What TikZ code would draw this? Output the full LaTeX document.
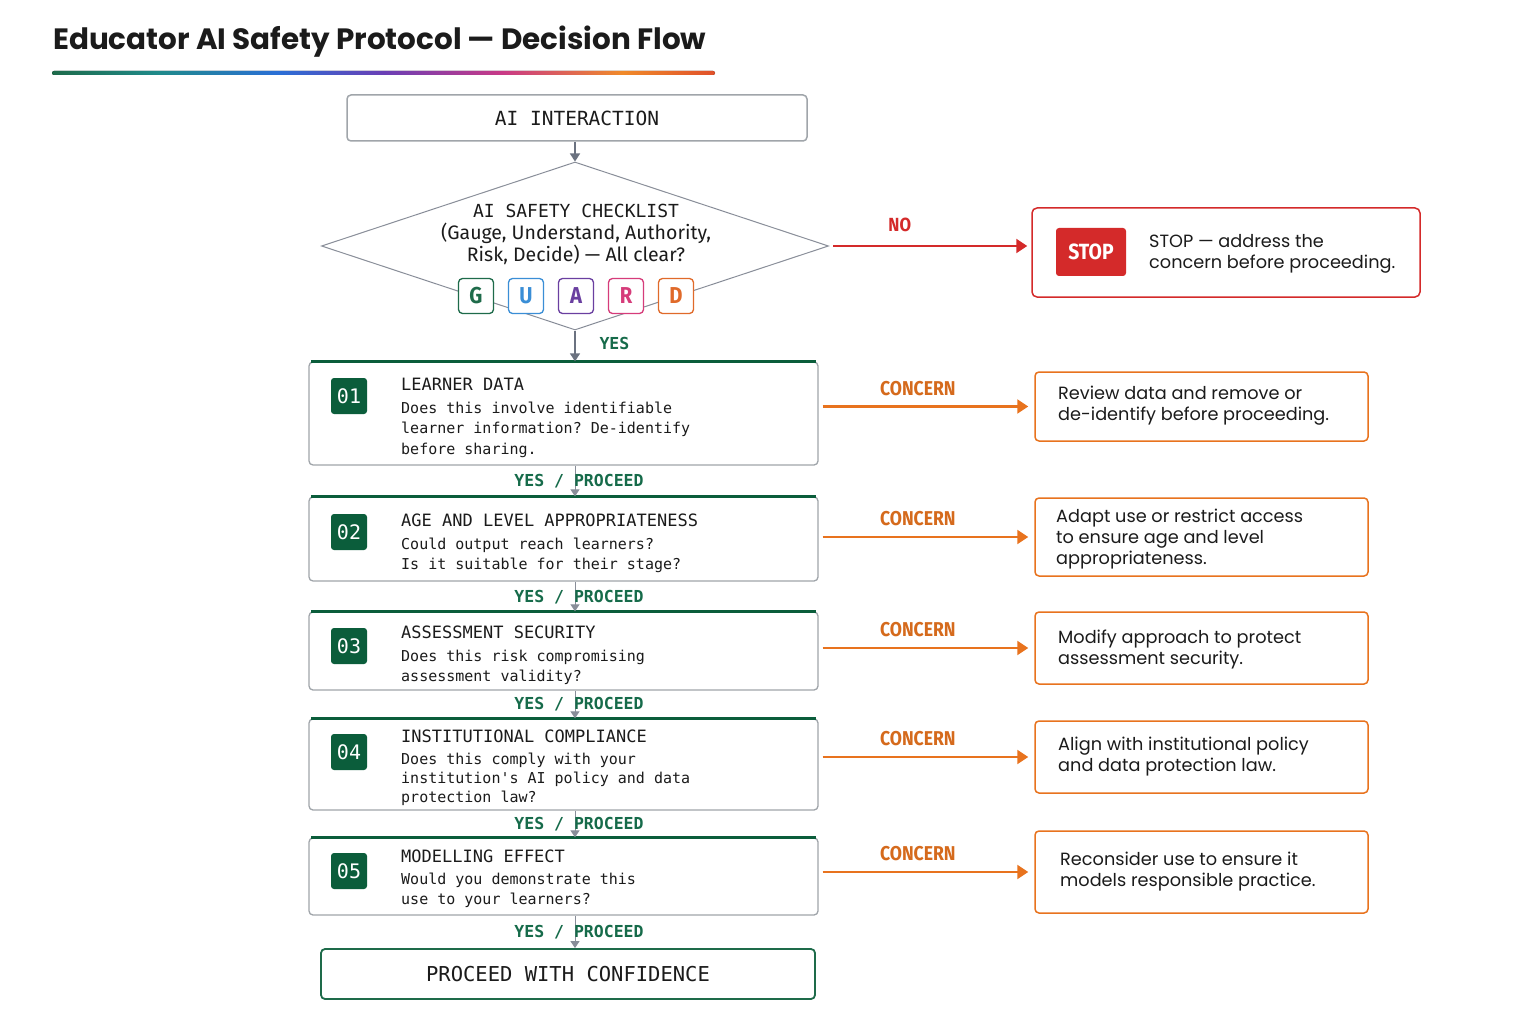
\documentclass[tikz,border=0pt]{standalone}
\usepackage{fontspec}
\setmainfont{Poppins}
\setmonofont{DejaVu Sans Mono}
\newfontfamily\condfont[FakeStretch=0.88]{Fira Sans}
\newfontfamily\narrowfont{Fira Sans}
\usetikzlibrary{arrows.meta,positioning,shapes.geometric}

\definecolor{ink}{HTML}{1B1B1B}
\definecolor{edgegray}{HTML}{A0A5AA}
\definecolor{arrowgray}{HTML}{6B7280}
\definecolor{deepgreen}{HTML}{0B5D3B}
\definecolor{yesgreen}{HTML}{166B4A}
\definecolor{concernorange}{HTML}{E8731E}
\definecolor{stopred}{HTML}{D42A2A}
\definecolor{letterG}{HTML}{1E6B4A}
\definecolor{letterU}{HTML}{3A8ED6}
\definecolor{letterA}{HTML}{6A3FA0}
\definecolor{letterR}{HTML}{D63C7A}
\definecolor{letterD}{HTML}{E06A2A}
\definecolor{barteal}{HTML}{1F8A8A}
\definecolor{barblue}{HTML}{2A6FD6}
\definecolor{barpurple}{HTML}{6A3FB5}
\definecolor{barpink}{HTML}{C93A86}
\definecolor{barorange}{HTML}{F08A2A}
\definecolor{barred}{HTML}{E0502A}

\pgfdeclarehorizontalshading{titlebar}{100bp}{color(0bp)=(letterG); color(25bp)=(letterG);
  color(33bp)=(barteal); color(42bp)=(barblue); color(50bp)=(barpurple);
  color(59bp)=(barpink); color(68bp)=(barorange); color(75bp)=(barred); color(100bp)=(barred)}

\begin{document}
\begin{tikzpicture}[x=1pt,y=-1pt]
    % page: one pt per pixel of the reference
    % - main column: checklist and five checks
    % - right column: what to do on a concern
    \tikzset{startbox/.style = {shape=rectangle,draw=edgegray,line width=1.5pt,rounded corners=4pt,fill=white,
        font=\fontsize{19.5}{20}\selectfont\ttfamily,text=ink}}
    \tikzset{checkdiamond/.style = {shape=diamond,draw=arrowgray!80,line width=1pt,inner sep=0pt}}
    \tikzset{checktext/.style = {align=center,font=\fontsize{19.5}{22}\selectfont\narrowfont,text=ink}}
    \tikzset{letter/.style = {shape=rectangle,rounded corners=4pt,line width=1.3pt,fill=white,
        minimum width=35pt,minimum height=35pt,font=\fontsize{23}{23}\selectfont\condfont\bfseries}}
    \tikzset{stepbox/.style = {shape=rectangle,draw=edgegray,line width=1.3pt,rounded corners=4pt,
        minimum width=509pt}}
    \tikzset{stepline/.style = {draw=deepgreen,line width=2.5pt}}
    \tikzset{numbadge/.style = {shape=rectangle,fill=deepgreen,rounded corners=3pt,minimum size=36pt,
        inner sep=0pt,text=white,font=\fontsize{20}{20}\selectfont\ttfamily}}
    \tikzset{steptext/.style = {anchor=north west,align=left,inner sep=0pt,text=ink,
        font=\fontsize{15}{20.5}\selectfont\ttfamily}}
    \tikzset{yeslabel/.style = {text=yesgreen,font=\fontsize{16.5}{17}\selectfont\ttfamily\bfseries}}
    \tikzset{finalbox/.style = {shape=rectangle,draw=letterG,line width=1.8pt,rounded corners=4pt,
        minimum width=494pt,minimum height=50pt,text=ink,font=\fontsize{20.5}{21}\selectfont\ttfamily}}
    \tikzset{fixbox/.style = {shape=rectangle,draw=concernorange,line width=1.5pt,rounded corners=4pt,
        minimum width=333pt}}
    \tikzset{fixtext/.style = {anchor=west,align=left,inner sep=0pt,text=ink,
        font=\fontsize{17.7}{21}\selectfont}}
    \tikzset{stopbox/.style = {shape=rectangle,draw=stopred,line width=1.5pt,rounded corners=5pt,
        minimum width=388pt,minimum height=89pt}}
    \tikzset{stopbadge/.style = {shape=rectangle,fill=stopred,rounded corners=3pt,minimum width=70pt,
        minimum height=48pt,text=white,font=\fontsize{22}{22}\selectfont\condfont\bfseries}}
    \tikzset{flow/.style = {draw=arrowgray,line width=1.5pt,-{Triangle[length=8pt,width=10pt]}}}
    \tikzset{proceed/.style = {draw=arrowgray!80,line width=1pt,-{Triangle[length=7pt,width=9pt]}}}
    \tikzset{concern/.style = {draw=concernorange,line width=2.2pt,-{Triangle[length=11pt,width=14pt]}}}
    \tikzset{concernlabel/.style = {text=concernorange!92!black,inner sep=0pt,
        font=\fontsize{20}{20}\selectfont\condfont\bfseries}}
    \tikzset{noarrow/.style = {draw=stopred,line width=2.2pt,-{Triangle[length=11pt,width=14pt]}}}
    \tikzset{nolabel/.style = {text=stopred,inner sep=0pt,font=\fontsize{19}{19}\selectfont\condfont\bfseries}}

    \fill[white] (0,0) rectangle (1536,1024);
    \useasboundingbox (0,0) rectangle (1536,1024);

    % title
    \node[anchor=west,inner sep=0pt,text=ink,font=\fontsize{29.4}{30}\selectfont\bfseries] (title) at (53,42)
        {Educator AI Safety Protocol — Decision Flow};
    \fill[shading=titlebar,rounded corners=2pt] (52,71) rectangle (715,75);

    % start and checklist
    \node[startbox,minimum width=460pt,minimum height=46pt] (start) at (577,118) {AI INTERACTION};
    \node[checkdiamond,minimum width=507pt,minimum height=168pt] (check) at (575,246) {};
    \node[checktext] (checkq) at (576,234)
        {{\ttfamily\fontsize{18}{22}\selectfont AI SAFETY CHECKLIST}\\(Gauge, Understand, Authority,\\Risk, Decide) — All clear?};
    \foreach \ltr/\col [count=\i] in {G/letterG,U/letterU,A/letterA,R/letterR,D/letterD}
        \node[letter,draw=\col,text=\col] (g\i) at (426+50*\i,296) {\ltr};
    \draw[flow] (check.north |- start.south) -- (check.north);

    % check 01
    \node[stepbox,minimum height=103pt] (s1) at (563.5,413.5) {};
    \draw[stepline] ([xshift=3pt]s1.north west) -- ([xshift=-3pt]s1.north east);
    \node[numbadge] (b1) at (349,396) {01};
    \node[steptext] (t1) at (401,378) {{\fontsize{17}{20.5}\selectfont LEARNER DATA}\\[2pt]
        Does this involve identifiable\\learner information? De-identify\\before sharing.};
    \draw[flow] (check.south) -- (check.south |- s1.north);
    \node[yeslabel,anchor=west] (yes0) at (596,343) {YES};

    % check 02
    \node[stepbox,minimum height=84pt] (s2) at (563.5,539) {};
    \draw[stepline] ([xshift=3pt]s2.north west) -- ([xshift=-3pt]s2.north east);
    \node[numbadge] (b2) at (349,532) {02};
    \node[steptext] (t2) at (401,514) {{\fontsize{17}{20.5}\selectfont AGE AND LEVEL APPROPRIATENESS}\\[2pt]
        Could output reach learners?\\Is it suitable for their stage?};

    % check 03
    \node[stepbox,minimum height=78pt] (s3) at (563.5,651) {};
    \draw[stepline] ([xshift=3pt]s3.north west) -- ([xshift=-3pt]s3.north east);
    \node[numbadge] (b3) at (349,646) {03};
    \node[steptext] (t3) at (401,626) {{\fontsize{17}{20.5}\selectfont ASSESSMENT SECURITY}\\[2pt]
        Does this risk compromising\\assessment validity?};

    % check 04
    \node[stepbox,minimum height=91pt] (s4) at (563.5,764.5) {};
    \draw[stepline] ([xshift=3pt]s4.north west) -- ([xshift=-3pt]s4.north east);
    \node[numbadge] (b4) at (349,752) {04};
    \node[steptext,font=\fontsize{15}{19}\selectfont\ttfamily] (t4) at (401,730)
        {{\fontsize{17}{19}\selectfont INSTITUTIONAL COMPLIANCE}\\[3pt]
        Does this comply with your\\institution's AI policy and data\\protection law?};

    % check 05
    \node[stepbox,minimum height=77pt] (s5) at (563.5,876.5) {};
    \draw[stepline] ([xshift=3pt]s5.north west) -- ([xshift=-3pt]s5.north east);
    \node[numbadge] (b5) at (349,871) {05};
    \node[steptext] (t5) at (401,850) {{\fontsize{17}{20.5}\selectfont MODELLING EFFECT}\\[1pt]
        Would you demonstrate this\\use to your learners?};

    % done
    \node[finalbox] (done) at (568,974) {PROCEED WITH CONFIDENCE};

    % yes / proceed between the checks
    \foreach \a/\b/\y in {s1/s2/481,s2/s3/597,s3/s4/704,s4/s5/824,s5/done/932} {
        \draw[proceed] (check.south |- \a.south) -- (check.south |- \b.north);
        \node[yeslabel] at (579,\y) {YES / PROCEED};
    }

    % no: stop
    \node[stopbox] (stop) at (1226,252.5) {};
    \node[stopbadge] (stopsign) at (1091,252) {STOP};
    \node[fixtext] (stopmsg) at (1149,253.5) {STOP — address the\\concern before proceeding.};
    \draw[noarrow,shorten <=4pt,shorten >=4pt] (check.east) -- node[nolabel,pos=0.35,above=13pt] {NO} (check.east -| stop.west);

    % concerns
    \node[fixbox,minimum height=69pt] (f1) at (1201.5,406.5) {};
    \node[fixtext] (ft1) at (1058,406) {Review data and remove or\\de-identify before proceeding.};
    \node[fixbox,minimum height=78pt] (f2) at (1201.5,537) {};
    \node[fixtext] (ft2) at (1056,539) {Adapt use or restrict access\\to ensure age and level\\appropriateness.};
    \node[fixbox,minimum height=72pt] (f3) at (1201.5,648) {};
    \node[fixtext] (ft3) at (1058,649.5) {Modify approach to protect\\assessment security.};
    \node[fixbox,minimum height=72pt] (f4) at (1201.5,757) {};
    \node[fixtext] (ft4) at (1058,756.5) {Align with institutional policy\\and data protection law.};
    \node[fixbox,minimum height=82pt] (f5) at (1201.5,872) {};
    \node[fixtext] (ft5) at (1060,871.5) {Reconsider use to ensure it\\models responsible practice.};

    \foreach \i in {1,...,5}
        \draw[concern,shorten <=4pt,shorten >=6pt] (s\i.east |- f\i.west) -- node[concernlabel,pos=0.46,above=10pt] {CONCERN} (f\i.west);

  \end{tikzpicture}
\end{document}
